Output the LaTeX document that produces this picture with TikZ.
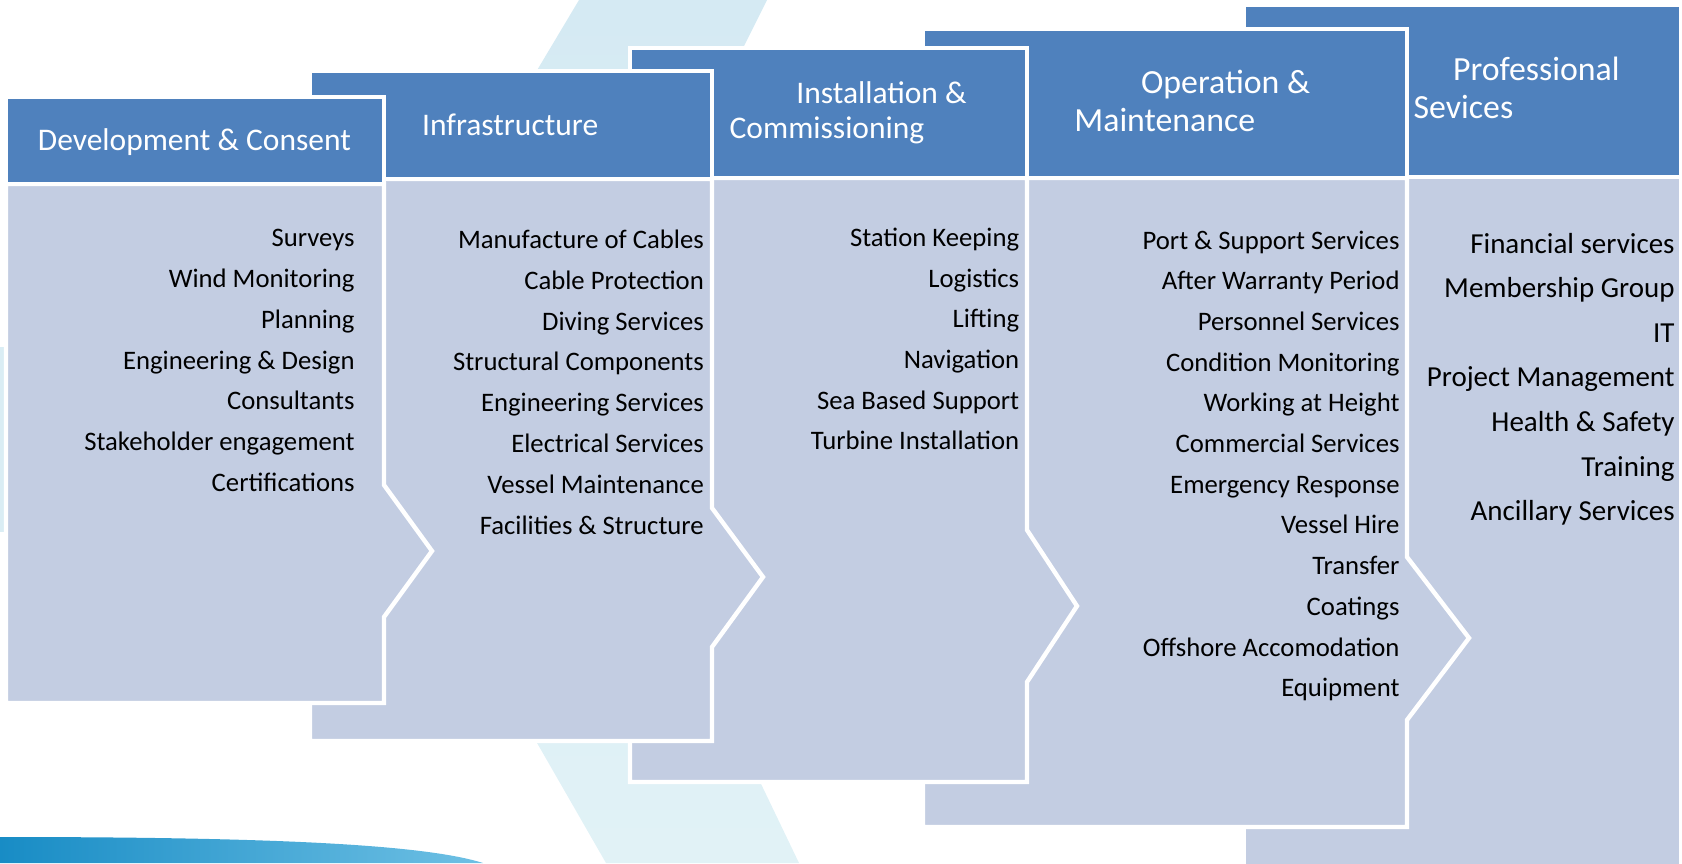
\documentclass[tikz,border=0pt]{standalone}
\usepackage{fontspec}
\setmainfont{Carlito}
\definecolor{hdrblue}{HTML}{4F81BD}
\definecolor{bodyblue}{RGB}{195,205,226}
\definecolor{bandtop}{RGB}{213,234,243}
\definecolor{bandbot}{RGB}{225,242,246}
\definecolor{swoosh}{RGB}{24,140,197}
\definecolor{swooshlight}{RGB}{110,192,228}

\begin{document}
\begin{tikzpicture}[x=0.5pt, y=-0.5pt,
    head/.style={fill=hdrblue, draw=white, line width=2.2pt},
    body/.style={fill=bodyblue, draw=white, line width=2.2pt},
    headtext/.style={anchor=base west, inner sep=0pt, text=white, font=\fontsize{15.75}{19}\selectfont},
    bigheadtext/.style={headtext, font=\fontsize{16.9}{20}\selectfont},
    item/.style={anchor=base east, inner sep=0pt, font=\fontsize{13.35}{16}\selectfont},
    bigitem/.style={item, font=\fontsize{14.5}{17}\selectfont}]

    \useasboundingbox (0,0) rectangle (1682,863);

    % background
    \shade[top color=bandtop, bottom color=bandbot] (579,0) -- (767,0) -- (572,390) -- (799,863) -- (606,863) -- (340,400) -- cycle;
    \fill[bandtop!60!bandbot] (0,347) rectangle (6,532);
    \shade[left color=swoosh, middle color=swoosh!85!swooshlight, right color=swooshlight] (0,837) .. controls (250,837) and (420,843) .. (483,863) -- (0,863) -- cycle;

    % Professional Services
    \draw[body] (1244,177) -- (1681,177) -- (1681,880) -- (1244,880) -- cycle;
    \draw[head] (1244,5) rectangle (1681,177);
    % Operation & Maintenance
    \draw[body] (923,178) -- (1407,178) -- (1407,557) -- (1469,638) -- (1407,720) -- (1407,827) -- (923,827) -- cycle;
    \draw[head] (923,29) rectangle (1407,178);
    % Installation & Commissioning
    \draw[body] (630,178) -- (1027,178) -- (1027,530) -- (1077,606) -- (1027,682) -- (1027,782) -- (630,782) -- cycle;
    \draw[head] (630,48) rectangle (1027,178);
    % Infrastructure
    \draw[body] (310,179) -- (712,179) -- (712,508) -- (763,577) -- (712,647) -- (712,741) -- (310,741) -- cycle;
    \draw[head] (310,71) rectangle (712,179);
    % Development & Consent
    \draw[body] (6,184) -- (384,184) -- (384,485) -- (432,551) -- (384,617) -- (384,703) -- (6,703) -- cycle;
    \draw[head] (6,97) rectangle (384,184);

    % headers
    \node[headtext] (devhead) at (37.5,150) {Development \& Consent};
    \node[headtext] (infhead) at (421.7,135) {Infrastructure};
    \node[headtext] (inshead) at (796,103.3) {Installation \&};
    \node[headtext] (inshead2) at (729.3,138.3) {Commissioning};
    \node[bigheadtext] (omhead) at (1140.7,93.3) {Operation \&};
    \node[bigheadtext] (omhead2) at (1074,131.7) {Maintenance};
    \node[bigheadtext] (prohead) at (1452.7,80) {Professional};
    \node[bigheadtext] (prohead2) at (1413.3,118.3) {Sevices};

    % items
    \foreach \txt [count=\i] in {Surveys, Wind Monitoring, Planning, Engineering \& Design,
        Consultants, Stakeholder engagement, Certifications}
        \node[item] (dev\i) at (355,{246.7+40.8*(\i-1)}) {\txt};
    \foreach \txt [count=\i] in {Manufacture of Cables, Cable Protection, Diving Services,
        Structural Components, Engineering Services, Electrical Services, Vessel Maintenance,
        Facilities \& Structure}
        \node[item] (inf\i) at (704.2,{248.5+40.8*(\i-1)}) {\txt};
    \foreach \txt [count=\i] in {Station Keeping, Logistics, Lifting, Navigation,
        Sea Based Support, Turbine Installation}
        \node[item] (ins\i) at (1019.6,{246.6+40.6*(\i-1)}) {\txt};
    \foreach \txt [count=\i] in {Port \& Support Services, After Warranty Period,
        Personnel Services, Condition Monitoring, Working at Height, Commercial Services,
        Emergency Response, Vessel Hire, Transfer, Coatings, Offshore Accomodation, Equipment}
        \node[item] (om\i) at (1399.9,{249+40.7*(\i-1)}) {\txt};
    \foreach \txt [count=\i] in {Financial services, Membership Group, IT, Project Management,
        Health \& Safety, Training, Ancillary Services}
        \node[bigitem] (pro\i) at (1675,{253+44.6*(\i-1)}) {\txt};
\end{tikzpicture}
\end{document}
